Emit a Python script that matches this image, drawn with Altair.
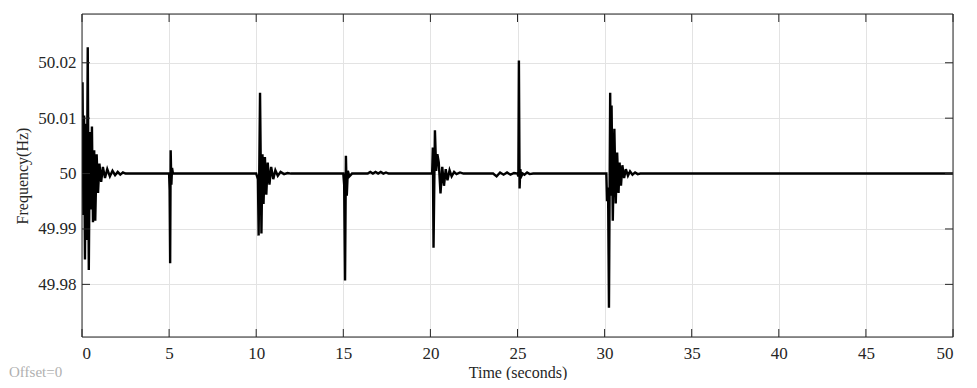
import altair as alt
import pandas as pd

# time (s) and frequency (Hz)
t = [0.00, 0.03, 0.08, 0.12, 0.17, 0.22, 0.27, 0.33, 0.39, 0.45, 0.51, 0.57, 0.63, 0.70, 0.76, 0.84,
     0.92, 1.00, 1.10, 1.20, 1.32, 1.45, 1.60, 1.75, 1.90, 2.05, 2.20, 2.35, 2.50,
     5.00, 5.03, 5.06, 5.09, 5.13, 5.17, 5.22,
     10.00, 10.10, 10.14, 10.22, 10.30, 10.36, 10.42, 10.50, 10.58, 10.66, 10.76, 10.86, 10.98,
     11.10, 11.24, 11.40, 11.60, 11.80, 12.00,
     15.00, 15.05, 15.10, 15.15, 15.20, 15.26, 15.35, 15.50,
     16.40, 16.55, 16.70, 16.85, 17.00, 17.15, 17.30, 17.45, 17.60,
     20.00, 20.10, 20.14, 20.18, 20.26, 20.33, 20.40, 20.48, 20.58, 20.68, 20.78, 20.88, 20.98,
     21.10, 21.22, 21.36, 21.50, 21.70, 21.90,
     23.60, 23.80, 24.00, 24.20, 24.40, 24.60, 24.80,
     25.00, 25.05, 25.08, 25.12, 25.16, 25.22, 25.30, 25.40, 25.55, 25.70, 25.90,
     30.00, 30.10, 30.14, 30.20, 30.25, 30.32, 30.36, 30.40, 30.47, 30.56, 30.64, 30.72, 30.80,
     30.86, 30.94, 31.02, 31.12, 31.22, 31.34, 31.46, 31.60, 31.75, 31.90, 32.05,
     50.00]
f = [50.0, 50.0165, 49.9925, 50.0105, 49.9845, 50.0090, 49.9880, 50.0228, 49.9826, 50.0075, 49.9935,
     50.0085, 49.9912, 50.0042, 49.9915, 50.0035, 49.9965, 50.0018, 49.9985, 50.0012, 49.9992, 50.0008,
     49.9995, 50.0005, 49.9997, 50.0003, 49.9998, 50.0002, 50.0,
     50.0, 49.9970, 49.9838, 50.0042, 49.9980, 50.0010, 50.0,
     50.0, 49.9990, 49.9888, 50.0146, 49.9892, 50.0035, 49.9945, 50.0030, 49.9962, 50.0020, 49.9980,
     50.0012, 49.9990, 50.0006, 49.9996, 50.0003, 49.9999, 50.0001, 50.0,
     50.0, 49.9980, 49.9807, 50.0032, 49.9960, 50.0005, 49.9995, 50.0,
     50.0, 50.0003, 50.0, 50.0003, 50.0, 50.0003, 50.0, 50.0002, 50.0,
     50.0, 50.0, 50.0047, 49.9866, 50.0078, 50.0005, 50.0035, 50.0020, 49.9964, 50.0012, 49.9978,
     50.0008, 49.9988, 50.0006, 49.9995, 50.0003, 49.9999, 50.0002, 50.0,
     50.0, 49.9995, 50.0002, 49.9998, 50.0002, 49.9998, 50.0001,
     50.0, 49.9995, 50.0204, 49.9973, 50.0008, 49.9995, 50.0, 49.9998, 50.0002, 49.9999, 50.0,
     50.0, 50.0, 49.9950, 49.9975, 49.9758, 50.0146, 49.9960, 50.0123, 49.9915, 50.0081, 49.9946,
     50.0038, 49.9965, 50.0020, 49.9978, 50.0015, 49.9992, 50.0008, 49.9996, 50.0004, 49.9998,
     50.0002, 49.9999, 50.0,
     50.0]

x_ticks = [0, 5, 10, 15, 20, 25, 30, 35, 40, 45, 50]
y_ticks = [49.98, 49.99, 50.0, 50.01, 50.02]
x_domain = [0, 50]
y_domain = [49.9705, 50.0288]

W, H = 871, 323
FONT = "Liberation Serif"
TICK = 8
DARK = "#262626"

df = pd.DataFrame({"t": t, "f": f})
xt = pd.DataFrame({"v": x_ticks})
yt = pd.DataFrame({"v": y_ticks})

xs = alt.Scale(domain=x_domain, nice=False, zero=False)
ys = alt.Scale(domain=y_domain, nice=False, zero=False)

line = alt.Chart(df).mark_line(color="#000000", strokeWidth=2.4, clip=True).encode(
    x=alt.X("t:Q", scale=xs, title="Time (seconds)",
            axis=alt.Axis(values=x_ticks, format="d", grid=True, gridColor="#e3e3e3",
                          ticks=False, domain=False, labelPadding=8, labelFont=FONT,
                          labelFontSize=17, labelColor=DARK, titleFont=FONT,
                          titleFontSize=16, titleFontWeight="normal", titleColor=DARK,
                          titlePadding=3)),
    y=alt.Y("f:Q", scale=ys, title="Frequency(Hz)",
            axis=alt.Axis(values=y_ticks, labelExpr="format(datum.value, '~g')", grid=True,
                          gridColor="#e3e3e3", ticks=False, domain=False, labelPadding=6,
                          labelFont=FONT, labelFontSize=17, labelColor=DARK,
                          titleFont=FONT, titleFontSize=16, titleFontWeight="normal",
                          titleColor=DARK, titlePadding=7)),
)

xtb = alt.Chart(xt).mark_rule(color=DARK, strokeWidth=1).encode(
    x=alt.X("v:Q", scale=xs), y=alt.value(H), y2=alt.value(H - TICK))
xtt = alt.Chart(xt).mark_rule(color=DARK, strokeWidth=1).encode(
    x=alt.X("v:Q", scale=xs), y=alt.value(0), y2=alt.value(TICK))
ytl = alt.Chart(yt).mark_rule(color=DARK, strokeWidth=1).encode(
    y=alt.Y("v:Q", scale=ys), x=alt.value(0), x2=alt.value(TICK))
ytr = alt.Chart(yt).mark_rule(color=DARK, strokeWidth=1).encode(
    y=alt.Y("v:Q", scale=ys), x=alt.value(W), x2=alt.value(W - TICK))

frame = alt.layer(
    alt.Chart().mark_rule(color=DARK, strokeWidth=1).encode(
        x=alt.value(0), x2=alt.value(W), y=alt.value(0)),
    alt.Chart().mark_rule(color=DARK, strokeWidth=1).encode(
        x=alt.value(0), x2=alt.value(W), y=alt.value(H)),
    alt.Chart().mark_rule(color=DARK, strokeWidth=1).encode(
        y=alt.value(0), y2=alt.value(H), x=alt.value(0)),
    alt.Chart().mark_rule(color=DARK, strokeWidth=1).encode(
        y=alt.value(0), y2=alt.value(H), x=alt.value(W)),
)

offset = alt.Chart(pd.DataFrame({"s": ["Offset=0"]})).mark_text(
    font=FONT, fontSize=15, color="#b0b0b0", align="left", baseline="alphabetic"
).encode(text="s:N", x=alt.value(-73), y=alt.value(H + 40))

chart = alt.layer(line, xtb, xtt, ytl, ytr, frame, offset).properties(
    width=W, height=H,
    autosize=alt.AutoSizeParams(type="none"),
    padding={"left": 74, "top": 6, "right": 16, "bottom": 43},
).configure_view(stroke=DARK, strokeWidth=1).configure(background="#ffffff")

chart.save("out.html", embed_options={"renderer": "svg", "actions": False})
